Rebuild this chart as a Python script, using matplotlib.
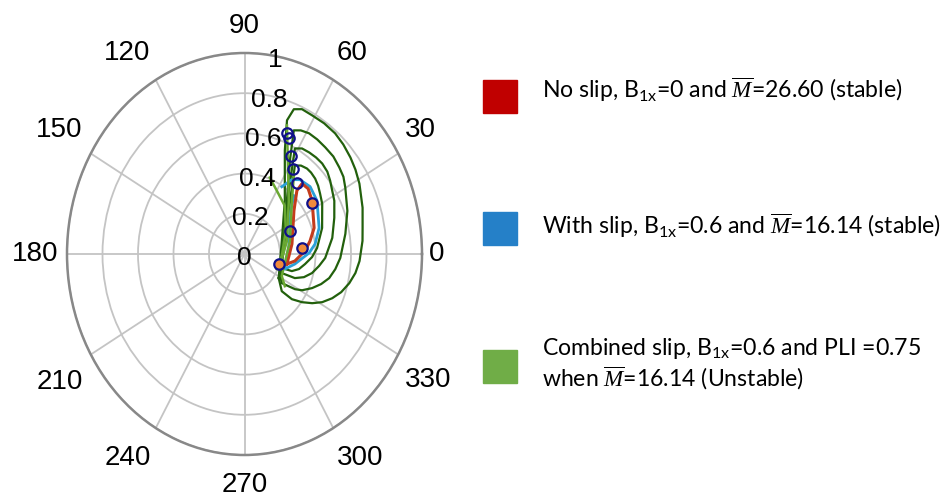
import numpy as np
import matplotlib
matplotlib.use("Agg")
from matplotlib import pyplot as plt
from matplotlib.patches import Rectangle
from matplotlib.transforms import offset_copy

##########
# Data   #
##########

# dark green loops (combined slip), angle in degrees, magnitude
loop1_theta = [-31.9, 17.2, 49.4, 66.2, 70.2, 68.9, 65.8, 61.1, 55.4, 49.6, 44.4, 38.8, 33.9, 28.4, 19.1, 11.1, 5.6,
               -3.1, -8.6, -13.8, -19.2, -24.0, -28.7, -32.7, -36.5, -40.1, -41.4, -31.9]
loop1_r = [0.227, 0.220, 0.349, 0.563, 0.707, 0.772, 0.790, 0.788, 0.790, 0.788, 0.779, 0.766, 0.753, 0.736, 0.704, 0.678, 0.668,
           0.649, 0.632, 0.608, 0.577, 0.541, 0.499, 0.453, 0.403, 0.349, 0.280, 0.227]

loop2_theta = [-25.5, 16.3, 48.0, 61.2, 65.7, 62.7, 58.8, 54.3, 49.4, 44.1, 38.8, 34.6, 30.2, 20.3, 10.0, -2.1, -8.4,
               -14.1, -19.1, -24.0, -29.1, -31.6, -34.6, -25.5]
loop2_r = [0.220, 0.231, 0.357, 0.531, 0.675, 0.692, 0.702, 0.702, 0.699, 0.697, 0.686, 0.677, 0.657, 0.618, 0.577, 0.540, 0.517,
           0.492, 0.457, 0.417, 0.371, 0.334, 0.255, 0.220]

loop3_theta = [-20.1, 26.9, 51.6, 61.6, 58.3, 54.2, 50.0, 45.8, 41.3, 37.1, 27.6, 19.6, 9.2, -2.5, -8.1, -14.0, -19.0,
               -22.9, -24.3, -20.1]
loop3_r = [0.218, 0.254, 0.402, 0.597, 0.617, 0.623, 0.627, 0.628, 0.621, 0.605, 0.571, 0.537, 0.501, 0.455, 0.424, 0.392, 0.354,
           0.308, 0.231, 0.218]

loop4_theta = [-15.9, 26.3, 48.0, 57.2, 54.1, 50.4, 47.2, 43.3, 39.3, 35.2, 29.7, 16.5, 4.2, -2.3, -8.3, -13.7, -17.7,
               -18.4, -15.9]
loop4_r = [0.218, 0.260, 0.390, 0.524, 0.543, 0.552, 0.552, 0.547, 0.536, 0.521, 0.504, 0.456, 0.410, 0.381, 0.345, 0.316, 0.280,
           0.221, 0.218]

# no slip (red)
red_theta = [-11.8, 10.6, 37.7, 46.9, 47.2, 42.2, 34.8, 18.3, 10.0, 2.5, -7.0, -11.8]
red_r = [0.244, 0.272, 0.352, 0.432, 0.477, 0.484, 0.464, 0.413, 0.375, 0.341, 0.286, 0.244]

# with slip (blue)
blue_theta = [57.9, 54.2, 49.8, 42.2, 33.0, 17.2, 7.2, 0.8, -10.0, -18.3, 9.1, 39.5, 46.2]
blue_r = [0.395, 0.456, 0.484, 0.499, 0.487, 0.440, 0.401, 0.364, 0.288, 0.239, 0.253, 0.338, 0.402]

# light green strands
lg1_theta = [69.5, 60.0, 46.6, 26.3, -2.7, -22.4]
lg1_r = [0.406, 0.364, 0.330, 0.260, 0.210, 0.197]
lg2_theta = [69.5, 62.3, 46.7, 15.2, -16.8]
lg2_r = [0.683, 0.525, 0.364, 0.248, 0.208]
lg3_theta = [54.5, 44.8, 14.2, -27.6, -35.2]
lg3_r = [0.479, 0.376, 0.264, 0.237, 0.278]

# circle markers
mk_theta = [68.4, 66.5, 61.7, 57.3, 50.3, 33.8, 24.2, 5.3, -14.5]
mk_r = [0.650, 0.627, 0.551, 0.505, 0.462, 0.458, 0.281, 0.325, 0.200]
mk_filled = [False, False, False, False, False, True, False, True, True]

r_ticks = [0, 0.2, 0.4, 0.6, 0.8, 1.0]
r_labels = ["0", "0.2", "0.4", "0.6", "0.8", "1"]
theta_ticks = list(range(0, 360, 30))

legend_labels = [
    r"No slip, B$_{\mathrm{1x}}$=0 and $\overline{M}$=26.60 (stable)",
    r"With slip, B$_{\mathrm{1x}}$=0.6 and $\overline{M}$=16.14 (stable)",
    "Combined slip, B$_{\\mathrm{1x}}$=0.6 and PLI =0.75\nwhen $\\overline{M}$=16.14 (Unstable)",
]
legend_colors = ["#c00000", "#2580c8", "#70ad47"]

##########
# Script #
##########

plt.rcParams["font.family"] = ["Liberation Sans", "DejaVu Sans"]
plt.rcParams["mathtext.fontset"] = "custom"
plt.rcParams["mathtext.rm"] = "Lato"
plt.rcParams["mathtext.it"] = "Liberation Serif:italic"

fig = plt.figure(figsize=(9.4, 4.99), dpi=100)
ax = fig.add_axes([67 / 940, 44 / 499, 355 / 940, 402 / 499], projection="polar")
ax.set_aspect("auto")
ax.set_ylim(0, 1)

ax.set_thetagrids(theta_ticks, [""] * len(theta_ticks))
ax.set_rgrids(r_ticks, [""] * len(r_ticks))
ax.grid(color="#c4c4c4", linewidth=1.3)
ax.spines["polar"].set_color("#888888")
ax.spines["polar"].set_linewidth(1.8)

# angle labels outside the rim: (angle, radius) of each label centre
lab_pos = {0: (0, 1.08), 30: (31.9, 1.167), 60: (58.7, 1.17), 90: (90, 1.134),
           120: (123.4, 1.198), 150: (149.4, 1.211), 180: (180, 1.177),
           210: (211.4, 1.221), 240: (237.0, 1.21), 270: (270, 1.149),
           300: (302.8, 1.207), 330: (328.8, 1.212)}
for t in theta_ticks:
    a, rr = lab_pos[t]
    ax.text(np.radians(a), rr, str(t), fontsize=20, ha="center", va="center",
            clip_on=False)

# magnitude labels
shifted = offset_copy(ax.transData, fig=fig, x=0, y=-4, units="dots")
for r, s in zip(r_ticks, r_labels):
    ax.text(np.radians(80), r, s, fontsize=19, ha="center", va="center",
            transform=shifted, clip_on=False)

def deg(a):
    return np.radians(np.array(a))

for th, r in [(loop1_theta, loop1_r), (loop2_theta, loop2_r), (loop3_theta, loop3_r), (loop4_theta, loop4_r)]:
    ax.plot(deg(th), r, color="#22600c", lw=1.6)
ax.plot(deg(blue_theta), blue_r, color="#2aa0d8", lw=2.0)
ax.plot(deg(red_theta), red_r, color="#c43c1c", lw=2.2)
for th, r in [(lg1_theta, lg1_r), (lg2_theta, lg2_r), (lg3_theta, lg3_r)]:
    ax.plot(deg(th), r, color="#6aa832", lw=1.8)

for th, r, f in zip(mk_theta, mk_r, mk_filled):
    ax.plot(np.radians(th), r, "o", ms=7.5, mec="#10108a", mew=1.6,
            mfc="#f08a3c" if f else "none")

# legend
sq_y = [80, 212, 350]
txt_y = [90, 226, 364]
for y0, ty, c, lab in zip(sq_y, txt_y, legend_colors, legend_labels):
    fig.add_artist(Rectangle((483 / 940, 1 - (y0 + 33) / 499), 34 / 940, 33 / 499,
                             transform=fig.transFigure, color=c))
    fig.text(542 / 940, 1 - ty / 499, lab, fontsize=16.6, family="Lato",
             va="center", ha="left", linespacing=1.2)

fig.savefig("out.png", dpi=100)
